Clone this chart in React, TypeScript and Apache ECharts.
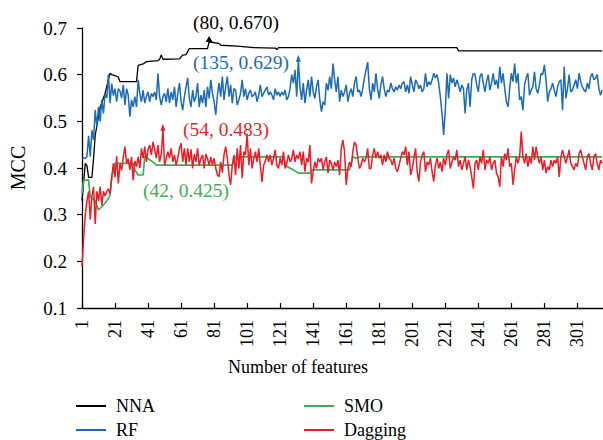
import React, { useEffect, useRef } from "react";
import * as echarts from "echarts";

const FONT = "Liberation Serif";

const xTickValues = [1, 21, 41, 61, 81, 101, 121, 141, 161, 181, 201, 221, 241, 261, 281, 301];
const seriesNames = ["NNA", "RF", "SMO", "Dagging"];
const seriesColors = ["#000000", "#1b6bb8", "#3cae55", "#ee1c25"];

// NNA: step-like curve, [feature, MCC] at change points
const nnaPoints: [number, number][] = [
  [1, 0.33], [2, 0.37], [3, 0.41], [4, 0.405], [5, 0.38], [7, 0.38], [8, 0.42], [9, 0.47],
  [10, 0.49], [11, 0.51], [12, 0.53], [13, 0.54], [14, 0.55], [15, 0.56], [16, 0.575],
  [17, 0.59], [18, 0.603], [19, 0.6], [21, 0.598], [23, 0.595], [24, 0.585], [34, 0.585],
  [35, 0.62], [38, 0.623], [40, 0.628], [47, 0.63], [48, 0.633], [49, 0.642], [50, 0.633],
  [60, 0.634], [62, 0.642], [64, 0.643], [66, 0.656], [77, 0.656], [78, 0.67], [84, 0.667],
  [85, 0.663], [95, 0.661], [105, 0.658], [118, 0.657], [119, 0.654], [120, 0.658],
  [228, 0.658], [229, 0.651], [316, 0.651],
];

// SMO: step-like curve, [feature, MCC] at change points
const smoPoints: [number, number][] = [
  [1, 0.346], [2, 0.374], [5, 0.374], [6, 0.338], [9, 0.33], [11, 0.31], [13, 0.317],
  [15, 0.325], [17, 0.335], [18, 0.342], [19, 0.38], [21, 0.41], [32, 0.41], [33, 0.396],
  [35, 0.385], [38, 0.385], [39, 0.424], [40, 0.425], [41, 0.42], [44, 0.413], [46, 0.406],
  [92, 0.406], [94, 0.424], [123, 0.424], [125, 0.403], [129, 0.396], [132, 0.389],
  [139, 0.389], [140, 0.396], [163, 0.396], [165, 0.424], [167, 0.421], [170, 0.424],
  [316, 0.424],
];

// RF: one value per feature, starting at feature 1
const rfValues = [
  0.42, 0.422, 0.42, 0.425, 0.469, 0.424, 0.481, 0.46, 0.524, 0.489,
  0.531, 0.5, 0.546, 0.517, 0.56, 0.55, 0.6, 0.539, 0.581, 0.555,
  0.57, 0.542, 0.57, 0.565, 0.55, 0.578, 0.535, 0.57, 0.556, 0.51,
  0.546, 0.531, 0.553, 0.531, 0.589, 0.56,
  0.542, 0.567, 0.539, 0.553, 0.563, 0.542, 0.56, 0.553, 0.563, 0.546,
  0.603, 0.553, 0.535, 0.553, 0.56, 0.542, 0.57, 0.539, 0.563, 0.546,
  0.574, 0.531, 0.56, 0.582, 0.542, 0.524, 0.553, 0.574, 0.593, 0.549,
  0.531, 0.567, 0.542, 0.553, 0.582, 0.531, 0.556, 0.539, 0.567, 0.531,
  0.574, 0.549, 0.589, 0.56, 0.542, 0.514, 0.556, 0.582, 0.553, 0.596,
  0.546, 0.574, 0.596, 0.553, 0.578, 0.539, 0.57, 0.567, 0.535, 0.546,
  0.56, 0.589, 0.553, 0.57, 0.546, 0.56, 0.567, 0.553, 0.556, 0.563,
  0.542, 0.556, 0.578, 0.553, 0.56, 0.567, 0.574, 0.556,
  0.563, 0.556, 0.546, 0.57, 0.556, 0.563, 0.553, 0.563, 0.556, 0.567,
  0.546, 0.553, 0.57, 0.6, 0.582, 0.61, 0.553, 0.629, 0.574, 0.546,
  0.582, 0.539, 0.567, 0.589, 0.553, 0.596, 0.563, 0.549, 0.574, 0.589,
  0.546, 0.521, 0.542, 0.535, 0.582, 0.567, 0.596, 0.57, 0.624, 0.589,
  0.563, 0.596, 0.542, 0.567, 0.553, 0.563, 0.578, 0.542, 0.56, 0.57,
  0.553, 0.582, 0.596, 0.563, 0.567, 0.553, 0.57, 0.593, 0.61, 0.627,
  0.57, 0.546, 0.582, 0.563, 0.603, 0.57, 0.549, 0.578, 0.596, 0.57,
  0.553, 0.567, 0.563, 0.582, 0.57, 0.563, 0.574, 0.567, 0.578, 0.57,
  0.582,
  0.585, 0.563, 0.578, 0.56, 0.596, 0.578, 0.563, 0.589, 0.582, 0.57,
  0.578, 0.563, 0.57, 0.603, 0.574, 0.585, 0.578, 0.589, 0.603, 0.593,
  0.6, 0.582, 0.553, 0.517, 0.471, 0.524, 0.603, 0.549, 0.6, 0.582,
  0.593, 0.574, 0.589, 0.578, 0.563, 0.578, 0.57, 0.517, 0.567, 0.582,
  0.531, 0.589, 0.603, 0.6, 0.578, 0.563, 0.596, 0.603, 0.582, 0.563,
  0.585, 0.6, 0.567, 0.582, 0.603, 0.578, 0.589, 0.57, 0.617, 0.582,
  0.603, 0.57, 0.542, 0.531, 0.57, 0.603, 0.585, 0.624, 0.582, 0.603,
  0.546, 0.553, 0.524, 0.578, 0.593, 0.603, 0.556, 0.567, 0.574,
  0.606, 0.57, 0.56, 0.578, 0.603, 0.6, 0.621, 0.589, 0.542, 0.563,
  0.57, 0.582, 0.567, 0.553, 0.574, 0.585, 0.589, 0.524, 0.617, 0.549,
  0.57, 0.6, 0.563, 0.567, 0.578, 0.589, 0.57, 0.603, 0.585, 0.574,
  0.567, 0.563, 0.582, 0.57, 0.596, 0.603, 0.589, 0.593, 0.6, 0.57,
  0.556, 0.567,
];

// Dagging: one value per feature, starting at feature 1
const daggingValues = [
  0.19, 0.25, 0.3, 0.33, 0.35, 0.29, 0.34, 0.36, 0.28, 0.35,
  0.33, 0.36, 0.32, 0.35, 0.34, 0.35, 0.355, 0.345, 0.38, 0.41,
  0.38, 0.425, 0.367, 0.41, 0.395, 0.424, 0.446, 0.41, 0.42, 0.396,
  0.424, 0.374, 0.415, 0.403, 0.424, 0.4,
  0.442, 0.421, 0.446, 0.413, 0.44, 0.449, 0.428, 0.456, 0.44, 0.421,
  0.449, 0.413, 0.43, 0.483, 0.406, 0.42, 0.435, 0.421, 0.442, 0.413,
  0.428, 0.406, 0.421, 0.442, 0.453, 0.413, 0.442, 0.406, 0.442, 0.413,
  0.44, 0.399, 0.43, 0.413, 0.442, 0.406, 0.42, 0.428, 0.399, 0.43,
  0.42, 0.406, 0.424, 0.406, 0.421, 0.4, 0.385, 0.381, 0.413, 0.39,
  0.428, 0.446, 0.421, 0.385, 0.364, 0.406, 0.428, 0.385, 0.442, 0.399,
  0.449, 0.378, 0.435, 0.428, 0.474, 0.406, 0.442, 0.399, 0.421, 0.435,
  0.413, 0.442, 0.406, 0.37, 0.406, 0.415, 0.428, 0.413, 0.428, 0.406,
  0.421, 0.439, 0.406, 0.399, 0.421, 0.406, 0.435, 0.399, 0.41, 0.428,
  0.413, 0.42, 0.439, 0.413, 0.428,
  0.42, 0.435, 0.406, 0.435, 0.392, 0.421, 0.413, 0.449, 0.367, 0.392,
  0.413, 0.399, 0.421, 0.413, 0.421, 0.396, 0.413, 0.424, 0.389, 0.417,
  0.41, 0.396, 0.413, 0.403, 0.417, 0.385, 0.442, 0.46, 0.435, 0.364,
  0.399, 0.413, 0.403, 0.435, 0.456, 0.449, 0.421, 0.399, 0.406, 0.421,
  0.413, 0.421, 0.442, 0.399, 0.399, 0.428, 0.442, 0.421, 0.435, 0.421,
  0.428, 0.406, 0.428, 0.413, 0.435, 0.421, 0.417, 0.406, 0.421, 0.399,
  0.392, 0.406, 0.421, 0.435, 0.428, 0.446, 0.406, 0.435, 0.385, 0.399,
  0.421, 0.442, 0.392, 0.371, 0.413, 0.428, 0.435, 0.392, 0.413, 0.406,
  0.421, 0.392, 0.371, 0.406, 0.421, 0.399, 0.413, 0.392, 0.421, 0.406,
  0.428, 0.439, 0.399, 0.413,
  0.424, 0.417, 0.439, 0.403, 0.417, 0.396, 0.41, 0.424, 0.396, 0.417,
  0.403, 0.381, 0.356, 0.41, 0.417, 0.396, 0.424, 0.41, 0.439, 0.396,
  0.417, 0.41, 0.424, 0.396, 0.41, 0.417, 0.389, 0.381, 0.36, 0.424,
  0.403, 0.431, 0.417, 0.442, 0.403, 0.41, 0.364, 0.396, 0.424, 0.41,
  0.424, 0.478, 0.424, 0.41, 0.431, 0.403, 0.424, 0.41, 0.446,
  0.417, 0.446, 0.424, 0.41, 0.424, 0.396, 0.417, 0.389, 0.403, 0.396,
  0.417, 0.403, 0.417, 0.41, 0.424, 0.381, 0.424, 0.439, 0.424, 0.41,
  0.424, 0.439, 0.41, 0.403, 0.396, 0.41, 0.403, 0.431, 0.439, 0.424,
  0.41, 0.396, 0.424, 0.431, 0.41, 0.396, 0.424, 0.431, 0.41, 0.396,
  0.417, 0.41,
];

// annotated peaks: [feature, MCC] and label text
const nnaPeak: [number, number] = [78, 0.67];
const rfPeak: [number, number] = [132, 0.629];
const daggingPeak: [number, number] = [50, 0.483];
const peakLabels = ["(80, 0.670)", "(135, 0.629)", "(42, 0.425)", "(54, 0.483)"];

export default function App() {
  const ref = useRef<HTMLDivElement>(null);

  useEffect(() => {
    if (!ref.current) return;
    const chart = echarts.init(ref.current, null, { renderer: "svg" });

    const toPairs = (arr: number[]) => arr.map((v, i) => [i + 1, v]);

    const makeMark = (coord: [number, number], color: string, size: number[], symOffset: number[]) => ({
      silent: true,
      symbol: "triangle",
      symbolSize: size,
      symbolOffset: symOffset,
      itemStyle: { color },
      label: { show: false },
      data: [{ coord }],
    });

    const lineSeries = (name: string, idx: number, data: any[], width: number, mark: any) => ({
      name,
      type: "line",
      data,
      symbol: "none",
      showSymbol: false,
      lineStyle: { color: seriesColors[idx], width },
      itemStyle: { color: seriesColors[idx] },
      emphasis: { disabled: true },
      markPoint: mark,
      z: 2 + idx,
    });

    const legendCommon = {
      orient: "vertical" as const,
      top: 392,
      height: 80,
      icon: "rect",
      itemWidth: 30,
      itemHeight: 2,
      itemGap: 6,
      selectedMode: false,
      textStyle: { fontFamily: FONT, fontSize: 18, color: "#000", padding: [0, 0, 0, 5] },
    };

    const annText = (text: string, x: number, y: number, color: string) => ({
      type: "text",
      x,
      y,
      silent: true,
      z: 100,
      style: {
        text,
        fontFamily: FONT,
        fontSize: 19.5,
        fill: color,
        align: "center",
        verticalAlign: "middle",
      },
    });

    chart.setOption({
      animation: false,
      backgroundColor: "#fff",
      grid: { left: 82, right: 0, top: 28, bottom: 132, containLabel: false },
      xAxis: {
        type: "value",
        min: 1,
        max: 316.5,
        axisLine: { show: true, lineStyle: { color: "#000", width: 1.3 } },
        axisTick: { show: true, inside: true, length: 5, customValues: xTickValues, lineStyle: { color: "#000", width: 1.2 } },
        axisLabel: {
          customValues: xTickValues,
          rotate: 90,
          margin: 12,
          fontFamily: FONT,
          fontSize: 18,
          color: "#000",
        },
        splitLine: { show: false },
      },
      yAxis: {
        type: "value",
        min: 0.1,
        max: 0.7,
        interval: 0.1,
        name: "MCC",
        nameLocation: "middle",
        nameGap: 54,
        nameRotate: 90,
        nameTextStyle: { fontFamily: FONT, fontSize: 20, color: "#000" },
        axisLine: { show: true, lineStyle: { color: "#000", width: 1.3 } },
        axisTick: { show: true, length: 5, lineStyle: { color: "#000", width: 1.2 } },
        axisLabel: {
          margin: 15,
          fontFamily: FONT,
          fontSize: 19,
          color: "#000",
          formatter: (v: number) => v.toFixed(1),
        },
        splitLine: { show: false },
      },
      legend: [
        { ...legendCommon, left: 71, data: [seriesNames[0], seriesNames[1]] },
        { ...legendCommon, left: 299, data: [seriesNames[2], seriesNames[3]] },
      ],
      graphic: [
        {
          type: "text",
          x: 298,
          y: 367,
          style: {
            text: "Number of features",
            fontFamily: FONT,
            fontSize: 18,
            fill: "#000",
            align: "center",
            verticalAlign: "middle",
          },
        },
        annText(peakLabels[0], 236, 22, "#000"),
        annText(peakLabels[1], 241, 62, seriesColors[1]),
        annText(peakLabels[2], 186, 190, seriesColors[2]),
        annText(peakLabels[3], 226, 129, seriesColors[3]),
      ],
      series: [
        lineSeries(seriesNames[0], 0, nnaPoints, 1.3, makeMark(nnaPeak, "#000", [7, 6], [0, -3])),
        lineSeries(seriesNames[1], 1, toPairs(rfValues), 1.5, makeMark(rfPeak, seriesColors[1], [5, 7], [0, -3])),
        lineSeries(seriesNames[2], 2, smoPoints, 1.7, undefined),
        lineSeries(seriesNames[3], 3, toPairs(daggingValues), 1.5, makeMark(daggingPeak, seriesColors[3], [5, 7], [0, -2])),
      ],
    });

    return () => chart.dispose();
  }, []);

  return (
    <div
      ref={ref}
      style={{ position: "fixed", left: 0, top: 0, width: 603, height: 440, background: "#fff" }}
    />
  );
}
